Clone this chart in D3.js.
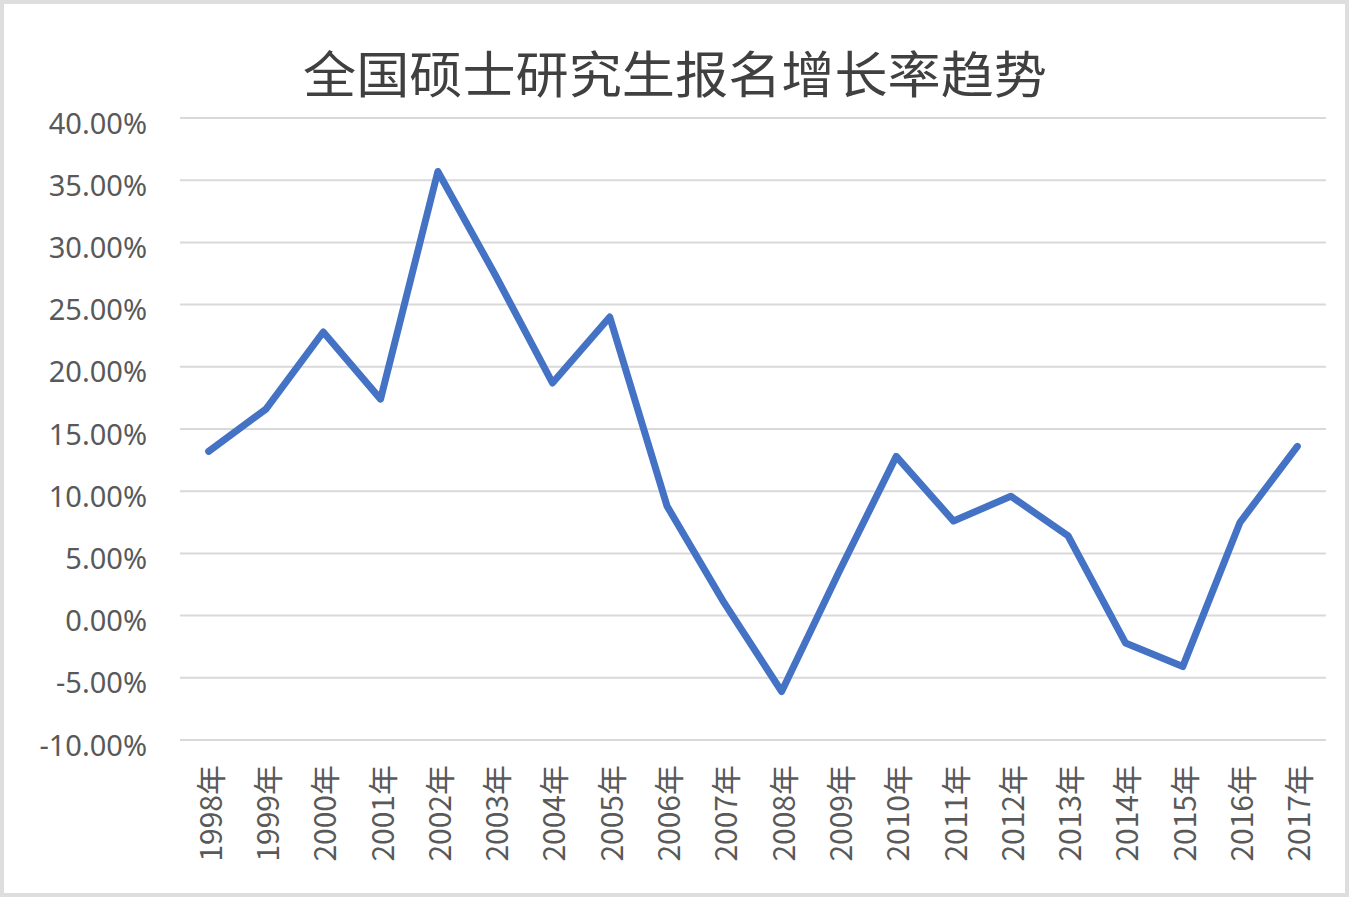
<!DOCTYPE html>
<html><head><meta charset="utf-8">
<script src="https://cdn.jsdelivr.net/npm/d3@7"></script>
<style>body{margin:0;background:#fff;} svg{display:block;}</style>
</head><body>
<svg id="chart" width="1350" height="900"></svg>
<script>
const title = "全国硕士研究生报名增长率趋势";
const years = ["1998年","1999年","2000年","2001年","2002年","2003年","2004年","2005年","2006年","2007年","2008年","2009年","2010年","2011年","2012年","2013年","2014年","2015年","2016年","2017年"];
const growth = [13.2, 16.6, 22.8, 17.4, 35.7, 27.4, 18.7, 24.0, 8.8, 1.0, -6.1, 3.5, 12.8, 7.6, 9.6, 6.4, -2.2, -4.1, 7.5, 13.6];
const yTicks = [-10, -5, 0, 5, 10, 15, 20, 25, 30, 35, 40];

(function () {
const svg = d3.select("#chart");
svg.append("rect").attr("x",2).attr("y",2).attr("width",1345).attr("height",893)
  .attr("fill","#fff").attr("stroke","#dedede").attr("stroke-width",4);

const pLeft = 180, pRight = 1326, pTop = 118, pBottom = 740;
const x = d3.scalePoint().domain(years).range([pLeft, pRight]).padding(0.5);
const y = d3.scaleLinear().domain([-10, 40]).range([pBottom, pTop]);

// gridlines
svg.append("g").selectAll("line").data(yTicks).join("line")
  .attr("x1", pLeft).attr("x2", pRight)
  .attr("y1", d => y(d)).attr("y2", d => y(d))
  .attr("stroke", "#d9d9d9").attr("stroke-width", 2);

// y axis
const yAxis = d3.axisLeft(y).tickValues(yTicks).tickSize(0).tickPadding(0)
  .tickFormat(d => d.toFixed(2) + "%");
const gy = svg.append("g").attr("transform", `translate(147,5)`).call(yAxis);
gy.select(".domain").remove();
gy.selectAll("text").attr("fill", "#595959").attr("font-size", 29)
  .attr("font-family", "'Noto Sans', sans-serif").attr("dy", "0.35em");

// x axis
const xAxis = d3.axisBottom(x).tickSize(0).tickPadding(0);
const gx = svg.append("g").attr("transform", `translate(2,765)`).call(xAxis);
gx.select(".domain").remove();
gx.selectAll("text")
  .attr("fill", "#595959").attr("font-size", 30)
  .attr("font-family", "'Noto Sans CJK SC', 'Noto Sans', sans-serif")
  .attr("transform", "rotate(-90)")
  .attr("text-anchor", "end")
  .attr("x", 0).attr("y", 0).attr("dy", "0.35em");

// line
const line = d3.line().x((d, i) => x(years[i])).y(d => y(d));
svg.append("path").datum(growth)
  .attr("d", line).attr("fill", "none")
  .attr("stroke", "#4472c4").attr("stroke-width", 7)
  .attr("stroke-linejoin", "round").attr("stroke-linecap", "round");

// title
svg.append("text").attr("x", 675).attr("y", 93)
  .attr("text-anchor", "middle").attr("fill", "#404040")
  .attr("font-size", 50)
  .attr("font-family", "'Noto Sans CJK SC', sans-serif")
  .attr("textLength", 744).attr("lengthAdjust", "spacingAndGlyphs")
  .text(title);
})();
</script>
</body></html>
